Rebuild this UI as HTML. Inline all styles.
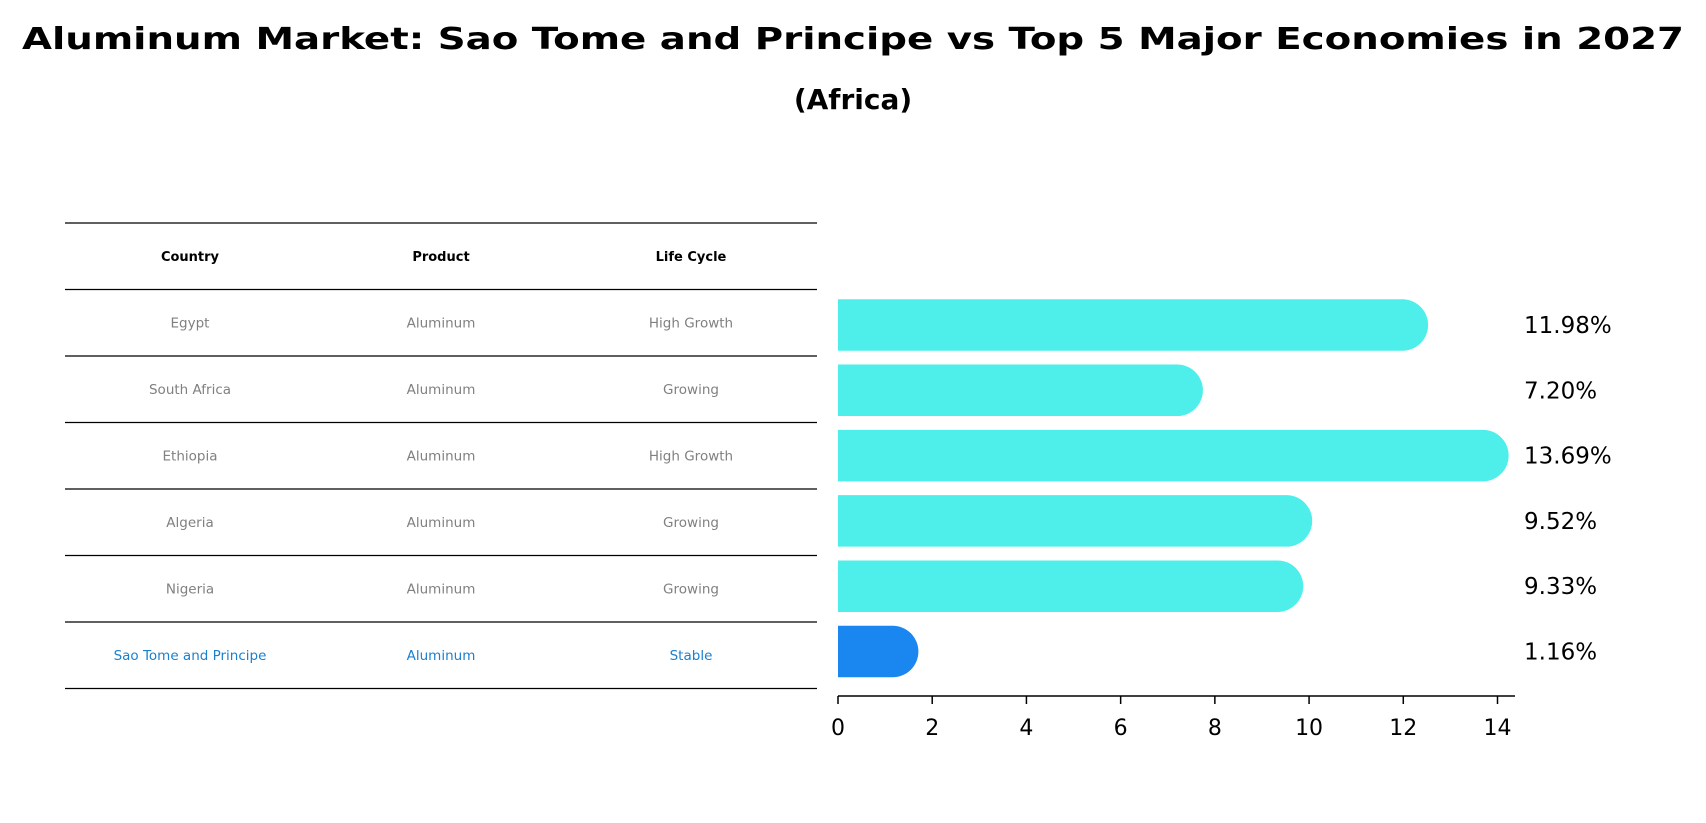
<!DOCTYPE html>
<html><head><meta charset="utf-8"><style>
body{margin:0;background:#fff;}
svg{display:block;font-family:"DejaVu Sans","Liberation Sans",sans-serif;}
</style></head><body>
<svg id="chart" width="1706" height="823" viewBox="0 0 1706 823">
<text x="853" y="49" text-anchor="middle" font-size="30" font-weight="bold" textLength="1662" lengthAdjust="spacingAndGlyphs">Aluminum Market: Sao Tome and Principe vs Top 5 Major Economies in 2027</text>
<text x="853" y="109" text-anchor="middle" font-size="28" font-weight="bold">(Africa)</text>
<g id="table"></g>
<g id="bars"></g>
</svg>
<script>
const countries=["Egypt","South Africa","Ethiopia","Algeria","Nigeria","Sao Tome and Principe"];
const products=["Aluminum","Aluminum","Aluminum","Aluminum","Aluminum","Aluminum"];
const lifeCycles=["High Growth","Growing","High Growth","Growing","Growing","Stable"];
const values=[11.98,7.20,13.69,9.52,9.33,1.16];
const valueLabels=["11.98%","7.20%","13.69%","9.52%","9.33%","1.16%"];
const ticks=[0,2,4,6,8,10,12,14];

const NS="http://www.w3.org/2000/svg";
function mk(tag,attrs,parent){const e=document.createElementNS(NS,tag);for(const k in attrs)e.setAttribute(k,attrs[k]);parent.appendChild(e);return e;}
const tbl=document.getElementById('table');
const bars=document.getElementById('bars');
// table
const tTop=223,rowH=66.5,tL=65,tR=817,colX=[190,441,691];
for(let i=0;i<=countries.length+1;i++){
  const l=mk('line',{x1:tL,x2:tR,y1:tTop+i*rowH,y2:tTop+i*rowH,stroke:'#000','stroke-width':1.2},tbl);
  
  
}
["Country","Product","Life Cycle"].forEach((h,j)=>{
  const t=mk('text',{x:colX[j],y:tTop+rowH/2+4.5,'text-anchor':'middle','font-size':13,'font-weight':'bold'},tbl);
  t.textContent=h;
  
  
});
countries.forEach((c,i)=>{
  const last=i===countries.length-1;
  [c,products[i],lifeCycles[i]].forEach((v,j)=>{
    const t=mk('text',{x:colX[j],y:tTop+rowH*(i+1)+rowH/2+4.5,'text-anchor':'middle','font-size':13.5,fill:last?'#1a80d0':'#808080'},tbl);
    t.textContent=v;
    
    
  });
});
// bars
const x0=838,xPer=(1497.5-838)/14;
const xs=v=>x0+v*xPer;
const yc=i=>325+i*65.3;
const bh=51.5,r=bh/2;
values.forEach((v,i)=>{
  const xe=xs(v),y=yc(i);
  const col=i===values.length-1?'#1a86f0':'#4eeeea';
  const p=mk('path',{d:`M${x0},${y-r} H${xe} A${r},${r} 0 0 1 ${xe},${y+r} H${x0} Z`,fill:col},bars);
  
  
  const t=mk('text',{x:1524,y:y+8,'font-size':23},bars);
  t.textContent=valueLabels[i];
  
  
});
const ax=mk('line',{x1:x0,x2:1515,y1:696,y2:696,stroke:'#000','stroke-width':1.5},bars);


ticks.forEach(tv=>{
  const l=mk('line',{x1:xs(tv),x2:xs(tv),y1:696,y2:704,stroke:'#000','stroke-width':1.5},bars);
  
  
  const t=mk('text',{x:xs(tv),y:735,'text-anchor':'middle','font-size':22},bars);
  t.textContent=tv;
  
  
});
</script>
</body></html>
